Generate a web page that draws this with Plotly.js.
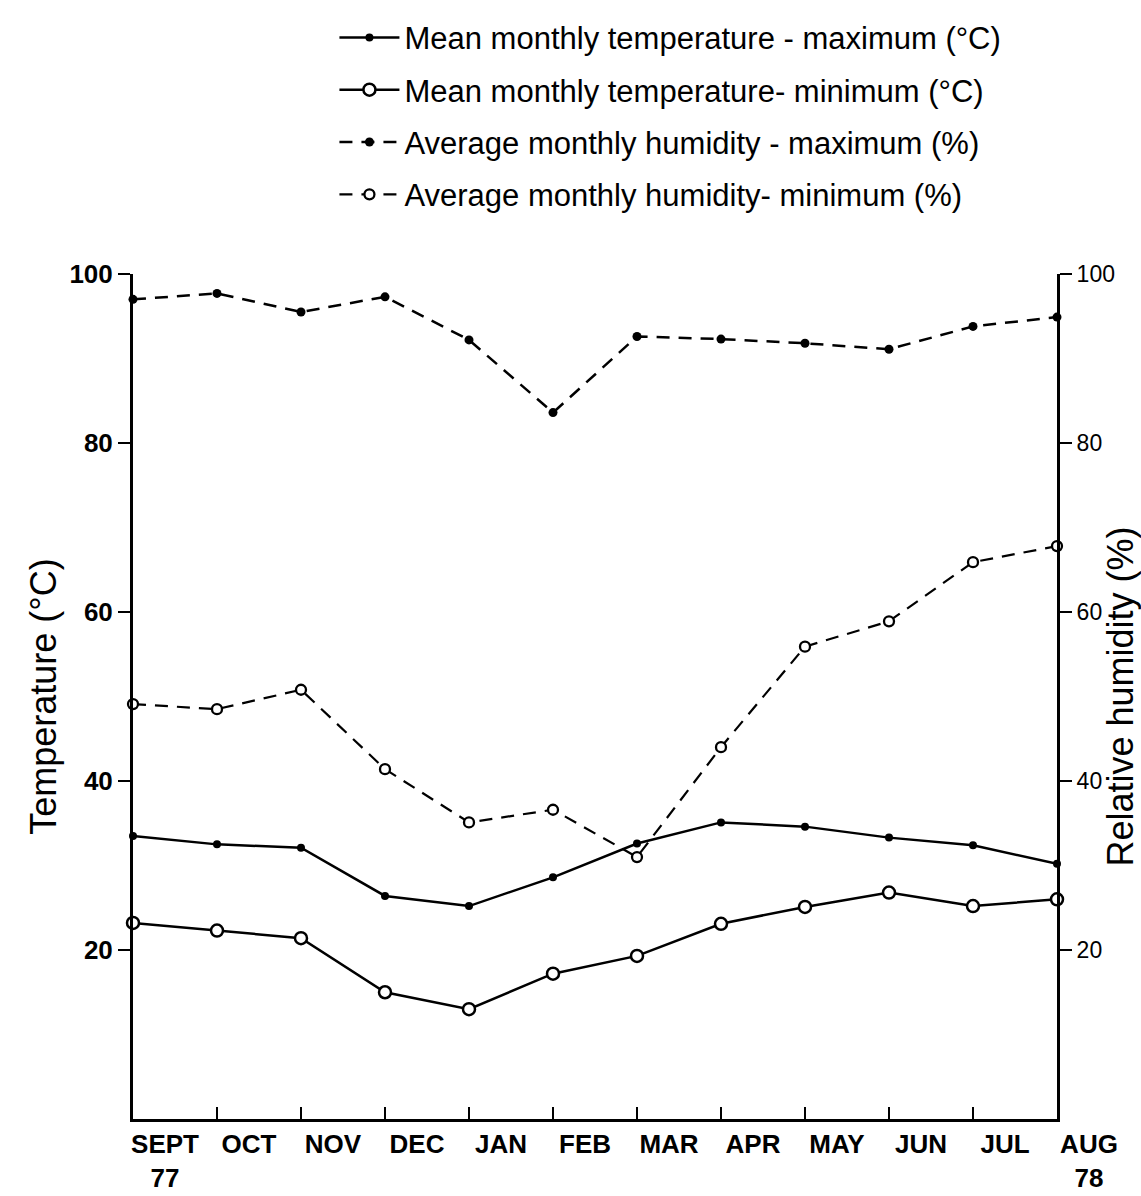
<!DOCTYPE html>
<html>
<head>
<meta charset="utf-8">
<script src="https://cdn.plot.ly/plotly-3.0.1.min.js"></script>
<style>html,body{margin:0;padding:0;background:#fff;}</style>
</head>
<body>
<div id="chart" style="width:1141px;height:1196px;"></div>
<script>
// Month positions and labels
const monthIndex = [0, 1, 2, 3, 4, 5, 6, 7, 8, 9, 10, 11];
const monthLabels = ["SEPT<br>77", "OCT", "NOV", "DEC", "JAN", "FEB", "MAR", "APR", "MAY", "JUN", "JUL", "AUG<br>78"];

// Series values
const tempMax = [33.5, 32.5, 32.1, 26.4, 25.2, 28.6, 32.6, 35.1, 34.6, 33.3, 32.4, 30.2];
const tempMin = [23.2, 22.3, 21.4, 15.0, 13.0, 17.2, 19.3, 23.1, 25.1, 26.8, 25.2, 26.0];
const humMax  = [97.0, 97.7, 95.5, 97.3, 92.2, 83.6, 92.6, 92.3, 91.8, 91.1, 93.8, 94.9];
const humMin  = [49.1, 48.5, 50.8, 41.4, 35.1, 36.6, 31.0, 44.0, 55.9, 58.9, 65.9, 67.8];

// Axis ticks
const yTicks = [20, 40, 60, 80, 100];

const traces = [
  {
    x: monthIndex, y: tempMax, yaxis: 'y', type: 'scatter', mode: 'lines+markers',
    name: 'Mean monthly temperature - maximum (°C)', legendgroup: 'a',
    line: {color: '#000', width: 2.5},
    marker: {symbol: 'circle', size: 8, color: '#000'},
    cliponaxis: false
  },
  {
    x: monthIndex, y: tempMin, yaxis: 'y', type: 'scatter', mode: 'lines+markers',
    name: 'Mean monthly temperature- minimum (°C)', legendgroup: 'b',
    line: {color: '#000', width: 2.5},
    marker: {symbol: 'circle', size: 12, color: '#fff', line: {color: '#000', width: 2.5}},
    cliponaxis: false
  },
  {
    x: monthIndex, y: humMax, yaxis: 'y2', type: 'scatter', mode: 'lines+markers',
    name: 'Average monthly humidity - maximum (%)', legendgroup: 'c',
    line: {color: '#000', width: 2.5, dash: '13px,9px'},
    marker: {symbol: 'circle', size: 9, color: '#000'},
    cliponaxis: false
  },
  {
    x: monthIndex, y: humMin, yaxis: 'y2', type: 'scatter', mode: 'lines+markers',
    name: 'Average monthly humidity- minimum (%)', legendgroup: 'd',
    line: {color: '#000', width: 2.2, dash: '13px,9px'},
    marker: {symbol: 'circle', size: 10, color: '#fff', line: {color: '#000', width: 2.3}},
    cliponaxis: false
  }
];

const layout = {
  width: 1141, height: 1196,
  margin: {l: 133, r: 84, t: 273, b: 77},
  paper_bgcolor: '#fff', plot_bgcolor: '#fff',
  font: {family: 'Liberation Sans, Arial, sans-serif', color: '#000'},
  showlegend: true,
  legend: {
    x: 0.218, y: 1.31, xanchor: 'left', yanchor: 'top',
    font: {size: 31, family: 'Liberation Sans, Arial, sans-serif', color: '#000'},
    tracegroupgap: 9, itemwidth: 60, bgcolor: 'rgba(0,0,0,0)'
  },
  xaxis: {
    range: [0, 11], tickmode: 'array', tickvals: monthIndex, ticktext: monthLabels,
    showline: true, linecolor: '#000', linewidth: 3,
    ticks: 'inside', ticklen: 12, tickwidth: 2, tickcolor: '#000',
    ticklabelshift: 32,
    tickfont: {family: 'Liberation Sans Narrow, Liberation Sans, sans-serif', size: 26, weight: 'bold', color: '#000'},
    showgrid: false, zeroline: false, fixedrange: true
  },
  yaxis: {
    range: [0, 100], tickmode: 'array', tickvals: yTicks,
    showline: true, linecolor: '#000', linewidth: 3,
    ticks: 'outside', ticklen: 12, tickwidth: 2, tickcolor: '#000',
    tickfont: {size: 26, weight: 'bold', color: '#000'},
    showgrid: false, zeroline: false,
    title: {text: 'Temperature (°C)', font: {size: 36, color: '#000'}, standoff: 2}
  },
  yaxis2: {
    range: [0, 100], tickmode: 'array', tickvals: yTicks,
    overlaying: 'y', side: 'right',
    showline: true, linecolor: '#000', linewidth: 3,
    ticks: 'outside', ticklen: 12, tickwidth: 2, tickcolor: '#000',
    tickfont: {size: 23, color: '#000'},
    showgrid: false, zeroline: false,
    title: {text: 'Relative humidity (%)', font: {size: 36, color: '#000'}, standoff: 0}
  }
};

Plotly.newPlot('chart', traces, layout, {displayModeBar: false, staticPlot: true});
</script>
</body>
</html>
